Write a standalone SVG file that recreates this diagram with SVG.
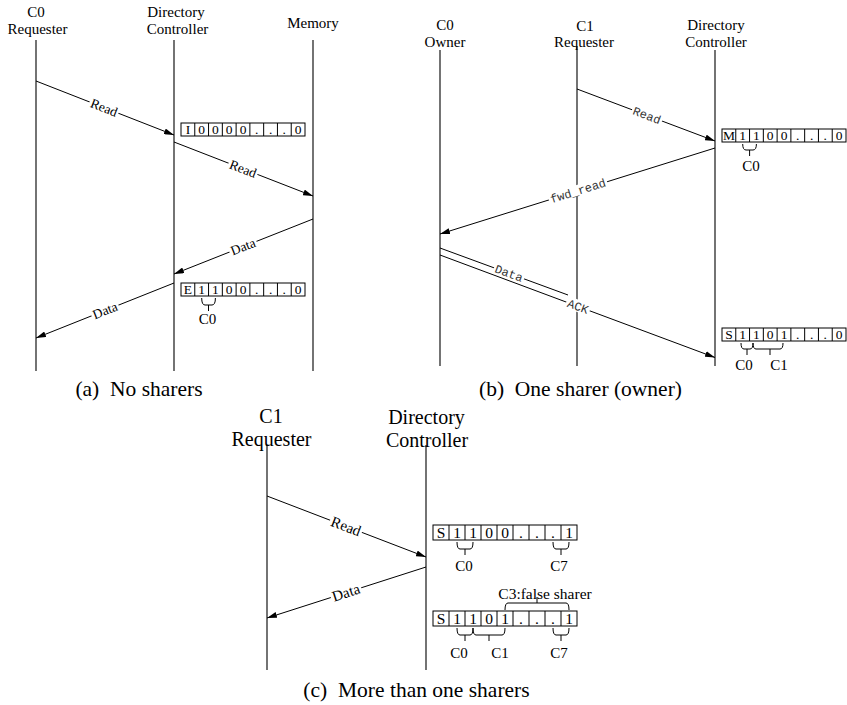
<svg xmlns="http://www.w3.org/2000/svg" width="847" height="705" viewBox="0 0 847 705">
<defs>
<style>
.life{stroke:#000;stroke-width:1.1;fill:none}
.conn{stroke:#000;stroke-width:1;fill:none}
.ser{font-family:'Liberation Serif','DejaVu Serif',serif}
.hd{font-size:15px;text-anchor:middle;fill:#000}
.hdc{font-size:20px}
.lbl{font-size:13.5px;text-anchor:middle;fill:#000}
.lblc{font-size:15px}
.mono{font-family:'Liberation Mono',monospace;font-size:12px;text-anchor:middle;fill:#333}
.bg{fill:#fff}
.box{fill:#fff;stroke:#000;stroke-width:1}
.div{stroke:#000;stroke-width:1;fill:none}
.cell{font-size:13.5px;text-anchor:middle;fill:#000}
.cellc{font-size:15.5px}
.brace{fill:none;stroke:#000;stroke-width:1}
.bl{font-size:15px;text-anchor:middle;fill:#000}
.cap{font-size:21.5px;text-anchor:middle;fill:#000}
</style>
<marker id="ah" viewBox="0 0 10 6" refX="10" refY="3" markerWidth="10" markerHeight="6" markerUnits="userSpaceOnUse" orient="auto">
<path d="M0,0 L10,3 L0,6 z" fill="#000"/>
</marker>
</defs>
<rect width="847" height="705" fill="#fff"/>
<g class="ser" font-family="Liberation Serif, DejaVu Serif, serif">

<!-- Panel (a) -->
<g id="a-c0-requester">
<text class="hd" x="36" y="16.5">C0</text>
<text class="hd" x="37.5" y="34">Requester</text>
<line class="life" x1="36" y1="40" x2="36" y2="371"/>
</g>
<g id="a-directory">
<text class="hd" x="176" y="16.5">Directory</text>
<text class="hd" x="177.5" y="34">Controller</text>
<line class="life" x1="174" y1="40" x2="174" y2="371"/>
</g>
<g id="a-memory">
<text class="hd" x="313" y="27.5">Memory</text>
<line class="life" x1="313" y1="40" x2="313" y2="371"/>
</g>
<g id="a-dir-state-1">
<rect class="box" x="181" y="123" width="124" height="13"/>
<path class="div" d="M194.78 123v13M208.56 123v13M222.33 123v13M236.11 123v13M249.89 123v13M263.67 123v13M277.44 123v13M291.22 123v13"/>
<text class="cell" x="187.9 201.7 215.4 229.2 243 256.8 270.6 284.3 298.1" y="134">I0000...0</text>
</g>
<g id="a-dir-state-2">
<rect class="box" x="181" y="283" width="124" height="13"/>
<path class="div" d="M194.78 283v13M208.56 283v13M222.33 283v13M236.11 283v13M249.89 283v13M263.67 283v13M277.44 283v13M291.22 283v13"/>
<text class="cell" x="187.9 201.7 215.4 229.2 243 256.8 270.6 284.3 298.1" y="294">E1100...0</text>
<path class="brace" d="M201.7 298Q201.7 305 205 305H212Q215.4 305 215.4 298M208.5 305V311"/>
<text class="bl" x="207.5" y="324">C0</text>
</g>
<text class="cap" x="139" y="396" xml:space="preserve">(a)  No sharers</text>

<!-- Panel (b) -->
<g id="b-c0-owner">
<text class="hd" x="445" y="30">C0</text>
<text class="hd" x="445" y="46.5">Owner</text>
<line class="life" x1="440" y1="50" x2="440" y2="366"/>
</g>
<g id="b-c1-requester">
<text class="hd" x="585" y="31">C1</text>
<text class="hd" x="584" y="46.5">Requester</text>
<line class="life" x1="577" y1="46" x2="577" y2="366"/>
</g>
<g id="b-directory">
<text class="hd" x="716" y="30">Directory</text>
<text class="hd" x="716" y="46.5">Controller</text>
<line class="life" x1="715" y1="50" x2="715" y2="366"/>
</g>
<g id="b-dir-state-1">
<rect class="box" x="722" y="129" width="124" height="13"/>
<path class="div" d="M735.78 129v13M749.56 129v13M763.33 129v13M777.11 129v13M790.89 129v13M804.67 129v13M818.44 129v13M832.22 129v13"/>
<text class="cell" x="728.9 742.7 756.4 770.2 784 797.8 811.6 825.3 839.1" y="140">M1100...0</text>
<path class="brace" d="M742.7 144Q742.7 150 746 150H753Q756.4 150 756.4 144M749.6 150V156"/>
<text class="bl" x="751" y="171">C0</text>
</g>
<g id="b-dir-state-2">
<rect class="box" x="722" y="328" width="124" height="13"/>
<path class="div" d="M735.78 328v13M749.56 328v13M763.33 328v13M777.11 328v13M790.89 328v13M804.67 328v13M818.44 328v13M832.22 328v13"/>
<text class="cell" x="728.9 742.7 756.4 770.2 784 797.8 811.6 825.3 839.1" y="339">S1101...0</text>
<path class="brace" d="M741 343Q741 349 744 349H750Q753 349 753 343M747 349V355M753 343Q753 349 756 349H780Q783 349 783 343M770 349V355"/>
<text class="bl" x="744" y="370">C0</text>
<text class="bl" x="779" y="370">C1</text>
</g>
<text class="cap" x="580.5" y="396" xml:space="preserve">(b)  One sharer (owner)</text>

<!-- Panel (c) -->
<g id="c-c1-requester">
<text class="hd hdc" x="271" y="423">C1</text>
<text class="hd hdc" x="271.5" y="446">Requester</text>
<line class="life" x1="267" y1="445" x2="267" y2="670"/>
</g>
<g id="c-directory">
<text class="hd hdc" x="426.5" y="424">Directory</text>
<text class="hd hdc" x="427" y="447">Controller</text>
<line class="life" x1="426" y1="445" x2="426" y2="670"/>
</g>
<g id="c-dir-state-1">
<rect class="box" x="433" y="525" width="144" height="15"/>
<path class="div" d="M449 525v15M465 525v15M481 525v15M497 525v15M513 525v15M529 525v15M545 525v15M561 525v15"/>
<text class="cell cellc" x="441 457 473 489 505 521 537 553 569" y="537.5">S1100...1</text>
<path class="brace" d="M457 542Q457 549 460 549H470Q473 549 473 542M465 549V555M553 542Q553 549 556 549H566Q569 549 569 542M561 549V555"/>
<text class="bl" x="464" y="571">C0</text>
<text class="bl" x="559" y="571">C7</text>
</g>
<g id="c-dir-state-2">
<text class="bl" x="545" y="599" style="font-size:15.5px">C3:false sharer</text>
<path class="brace" d="M505 610Q505 603 508 603H566Q569 603 569 610M537 603V597"/>
<rect class="box" x="433" y="611" width="144" height="15"/>
<path class="div" d="M449 611v15M465 611v15M481 611v15M497 611v15M513 611v15M529 611v15M545 611v15M561 611v15"/>
<text class="cell cellc" x="441 457 473 489 505 521 537 553 569" y="623.5">S1101...1</text>
<path class="brace" d="M457 628Q457 635 460 635H470Q473 635 473 628M465 635V641M473 628Q473 635 476 635H502Q505 635 505 628M489 635V641M553 628Q553 635 556 635H566Q569 635 569 628M561 635V641"/>
<text class="bl" x="459" y="658">C0</text>
<text class="bl" x="500" y="658">C1</text>
<text class="bl" x="559" y="658">C7</text>
</g>
<text class="cap" x="416.5" y="697" xml:space="preserve">(c)  More than one sharers</text>

<!-- Connectors -->
<g id="connectors">
<line class="conn" x1="36" y1="81" x2="174" y2="135" marker-end="url(#ah)"/>
<line class="conn" x1="174" y1="142" x2="313" y2="196" marker-end="url(#ah)"/>
<line class="conn" x1="313" y1="219" x2="174" y2="274" marker-end="url(#ah)"/>
<line class="conn" x1="174" y1="283" x2="36" y2="338" marker-end="url(#ah)"/>
<line class="conn" x1="577" y1="89" x2="715" y2="141" marker-end="url(#ah)"/>
<line class="conn" x1="715" y1="148" x2="440" y2="234" marker-end="url(#ah)"/>
<line class="conn" x1="440" y1="248" x2="568" y2="295"/>
<line class="conn" x1="440" y1="255" x2="715" y2="357.5" marker-end="url(#ah)"/>
<line class="conn" x1="267" y1="496" x2="426" y2="557" marker-end="url(#ah)"/>
<line class="conn" x1="426" y1="567" x2="267" y2="618" marker-end="url(#ah)"/>

<g transform="translate(104,107.6) rotate(21.37)"><rect class="bg" x="-15.5" y="-6.5" width="31" height="12"/><text class="lbl" x="0" y="4.5">Read</text></g>
<g transform="translate(243,168.8) rotate(21.23)"><rect class="bg" x="-15.5" y="-6.5" width="31" height="12"/><text class="lbl" x="0" y="4.5">Read</text></g>
<g transform="translate(243,246.7) rotate(-21.59)"><rect class="bg" x="-14.5" y="-6.5" width="29" height="12"/><text class="lbl" x="0" y="4.5">Data</text></g>
<g transform="translate(105,310.5) rotate(-21.73)"><rect class="bg" x="-14.5" y="-6.5" width="29" height="12"/><text class="lbl" x="0" y="4.5">Data</text></g>

<g transform="translate(647,115.4) rotate(20.65)"><rect class="bg" x="-16" y="-6" width="32" height="11"/><text class="mono" x="0" y="4">Read</text></g>
<g transform="translate(578,190.8) rotate(-17.37)"><rect class="bg" x="-30.5" y="-6" width="61" height="11"/><text class="mono" x="0" y="4">fwd_read</text></g>
<g transform="translate(509,273.3) rotate(20.16)"><rect class="bg" x="-16" y="-6" width="32" height="11"/><text class="mono" x="0" y="4">Data</text></g>
<g transform="translate(578,306.4) rotate(20.44)"><rect class="bg" x="-12.5" y="-6.5" width="25" height="12"/><text class="mono" x="0" y="4">ACK</text></g>

<g transform="translate(346,526.3) rotate(20.99)"><rect class="bg" x="-17" y="-7" width="34" height="13"/><text class="lbl lblc" x="0" y="5">Read</text></g>
<g transform="translate(346,592.6) rotate(-17.78)"><rect class="bg" x="-16" y="-7" width="32" height="13"/><text class="lbl lblc" x="0" y="5">Data</text></g>
</g>
</g>
</svg>
